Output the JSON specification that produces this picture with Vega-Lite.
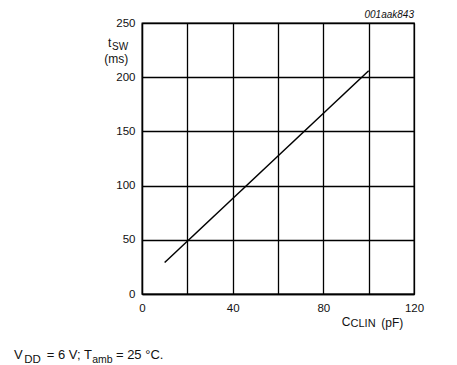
{
  "$schema": "https://vega.github.io/schema/vega-lite/v6.json",
  "width": 272,
  "height": 271,
  "autosize": {"type": "none"},
  "padding": {"left": 142, "top": 23, "right": 43, "bottom": 71},
  "background": "white",
  "config": {
    "view": {"stroke": "black", "strokeWidth": 1.3},
    "font": "Liberation Sans",
    "axis": {
      "grid": true,
      "gridColor": "black",
      "gridOpacity": 1,
      "gridWidth": 1.3,
      "domainColor": "black",
      "domainWidth": 1.3,
      "ticks": false,
      "labelFont": "Liberation Sans",
      "labelFontSize": 11.5,
      "labelColor": "#111",
      "title": null
    }
  },
  "layer": [
    {
      "data": {"values": [{"c": 10, "t": 29}, {"c": 100, "t": 206}]},
      "mark": {"type": "line", "color": "black", "strokeWidth": 1.5},
      "encoding": {
        "x": {
          "field": "c", "type": "quantitative",
          "scale": {"domain": [0, 120], "nice": false},
          "axis": {"values": [0, 20, 40, 60, 80, 100, 120], "labelExpr": "datum.value % 40 == 0 ? datum.label : ''", "labelPadding": 8, "labelFlush": false}
        },
        "y": {
          "field": "t", "type": "quantitative",
          "scale": {"domain": [0, 250], "nice": false},
          "axis": {"values": [0, 25, 50, 75, 100, 125, 150, 175, 200, 225, 250], "labelExpr": "datum.value % 50 == 0 ? datum.label : ''", "labelPadding": 7}
        }
      }
    },
    {
      "data": {"values": [
        {"label": "t", "px": -15.0, "py": 228.0},
        {"label": "(ms)", "px": -16.6, "py": 213.5},
        {"label": "C", "px": 88.1, "py": -29.5},
        {"label": "(pF)", "px": 105.6, "py": -30.5}
      ]},
      "mark": {"type": "text", "align": "left", "baseline": "alphabetic", "fontSize": 12, "color": "#111"},
      "encoding": {
        "x": {"field": "px", "type": "quantitative"},
        "y": {"field": "py", "type": "quantitative"},
        "text": {"field": "label"}
      }
    },
    {
      "data": {"values": [
        {"label": "SW", "px": -13.2, "py": 225.5}
      ]},
      "mark": {"type": "text", "align": "left", "baseline": "alphabetic", "fontSize": 10, "color": "#111"},
      "encoding": {
        "x": {"field": "px", "type": "quantitative"},
        "y": {"field": "py", "type": "quantitative"},
        "text": {"field": "label"}
      }
    },
    {
      "data": {"values": [
        {"label": "CLIN", "px": 92.0, "py": -30.7}
      ]},
      "mark": {"type": "text", "align": "left", "baseline": "alphabetic", "fontSize": 11, "color": "#111"},
      "encoding": {
        "x": {"field": "px", "type": "quantitative"},
        "y": {"field": "py", "type": "quantitative"},
        "text": {"field": "label"}
      }
    },
    {
      "data": {"values": [{"label": "001aak843", "px": 120, "py": 254.6}]},
      "mark": {"type": "text", "align": "right", "baseline": "alphabetic", "fontSize": 10, "fontStyle": "italic", "color": "#111"},
      "encoding": {
        "x": {"field": "px", "type": "quantitative"},
        "y": {"field": "py", "type": "quantitative"},
        "text": {"field": "label"}
      }
    },
    {
      "data": {"values": [
        {"label": "V", "px": -56.5, "py": -60},
        {"label": "= 6 V;", "px": -42.0, "py": -60},
        {"label": "T", "px": -25.6, "py": -60},
        {"label": "= 25 °C.", "px": -11.5, "py": -60}
      ]},
      "mark": {"type": "text", "align": "left", "baseline": "alphabetic", "fontSize": 13, "color": "#111"},
      "encoding": {
        "x": {"field": "px", "type": "quantitative"},
        "y": {"field": "py", "type": "quantitative"},
        "text": {"field": "label"}
      }
    },
    {
      "data": {"values": [
        {"label": "DD", "px": -52.0, "py": -63.4}
      ]},
      "mark": {"type": "text", "align": "left", "baseline": "alphabetic", "fontSize": 11.5, "color": "#111"},
      "encoding": {
        "x": {"field": "px", "type": "quantitative"},
        "y": {"field": "py", "type": "quantitative"},
        "text": {"field": "label"}
      }
    },
    {
      "data": {"values": [
        {"label": "amb", "px": -22.0, "py": -63.4}
      ]},
      "mark": {"type": "text", "align": "left", "baseline": "alphabetic", "fontSize": 10.5, "color": "#111"},
      "encoding": {
        "x": {"field": "px", "type": "quantitative"},
        "y": {"field": "py", "type": "quantitative"},
        "text": {"field": "label"}
      }
    }
  ]
}
